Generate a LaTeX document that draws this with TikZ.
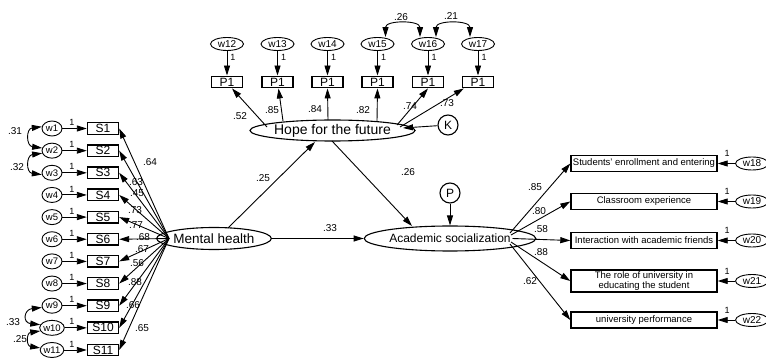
\documentclass[tikz,border=0pt]{standalone}
\usepackage{fontspec}
\setmainfont{Liberation Sans}
\usetikzlibrary{arrows.meta,calc,shapes.geometric}
\begin{document}
\begin{tikzpicture}[x=1pt,y=-1pt,
  box/.style={draw,line width=1.4pt,minimum width=31pt,minimum height=11.5pt,inner sep=0pt,font=\fontsize{12}{12}\selectfont},
  err/.style={draw,ellipse,line width=0.9pt,minimum width=20pt,minimum height=15pt,inner sep=0pt,font=\fontsize{9.5}{9.5}\selectfont},
  errt/.style={draw,ellipse,line width=0.9pt,minimum width=33pt,minimum height=13pt,inner sep=0pt,font=\fontsize{10}{10}\selectfont},
  lat/.style={draw,ellipse,line width=1.1pt,inner sep=0pt},
  circ/.style={draw,circle,line width=1.1pt,minimum size=20pt,inner sep=0pt,font=\fontsize{12}{12}\selectfont},
  rbox/.style={draw,line width=1.4pt,minimum width=146pt,minimum height=16pt,inner sep=0pt,font=\fontsize{9.5}{10.5}\selectfont,align=center},
  arr/.style={line width=0.9pt,-{Triangle[length=10pt,width=6pt]}},
  cov/.style={line width=0.9pt,{Triangle[length=10pt,width=6pt]}-{Triangle[length=10pt,width=6pt]}},
  lbl/.style={font=\fontsize{10}{10}\selectfont,inner sep=0pt},
  one/.style={font=\fontsize{9}{9}\selectfont,inner sep=0pt}]
\useasboundingbox (0,0) rectangle (766,358);
\fill[white] (0,0) rectangle (766,358);

% left indicators
\foreach \i in {1,...,11} {
  \pgfmathsetmacro\yy{128.5+(\i-1)*22.15}
  \node[err] (w\i) at (52,\yy) {w\i};
  \node[box] (s\i) at (103,\yy) {S\i};
  \draw[arr] (w\i) -- (s\i);
  \node[one] at (72,\yy-6) {1};
}
\node[lat,minimum width=96pt,minimum height=22pt,font=\fontsize{13.5}{13.5}\selectfont] (mh) at (214,238.5) {Mental health};
\coordinate (mhw) at (169,238.5);
\foreach \i in {1,...,11} \draw[arr] (mhw) -- (s\i.east);
\foreach \t/\x/\y in {.64/150/162,.63/136/182,.45/137/193,.73/135/210,.77/136/225,.68/143/237,.67/142/249,.56/137/263,.88/135/282,.66/133/305,.65/142/328}
  \node[lbl] at (\x,\y) {\t};

% left covariances
\draw[cov] (w1.170) .. controls +(-16,2) and +(-16,-2) .. (w2.165);
\draw[cov] (w2.195) .. controls +(-16,2) and +(-16,-2) .. (w3.190);
\draw[cov] (w9.190) .. controls +(-18,2) and +(-18,-2) .. (w10.165);
\draw[cov] (w10.195) .. controls +(-14,2) and +(-14,-2) .. (w11.170);
\node[lbl] at (15,131) {.31};
\node[lbl] at (17,167) {.32};
\node[lbl] at (13,322) {.33};
\node[lbl] at (20,339) {.25};

% top indicators
\foreach \n/\x in {12/227,13/277.5,14/327.5,15/377.5,16/428,17/478} {
  \node[errt] (w\n) at (\x,44) {w\n};
  \node[box] (p\n) at (\x,82) {P1};
  \draw[arr] (w\n) -- (p\n);
  \node[one] at (\x+6,57) {1};
}
\node[lat,minimum width=139pt,minimum height=21pt,font=\fontsize{14}{14}\selectfont] (hope) at (332.5,130.5) {Hope for the future};
\coordinate (h1) at (267,127);
\coordinate (h2) at (283,121);
\coordinate (h3) at (328,120);
\coordinate (h4) at (377,121);
\coordinate (h5) at (397,125);
\coordinate (h6) at (400,127);
\draw[arr] (h1) -- ($(p12.south)+(5,0)$);
\draw[arr] (h2) -- ($(p13.south)+(1,0)$);
\draw[arr] (h3) -- (p14.south);
\draw[arr] (h4) -- (p15.south);
\draw[arr] (h5) -- (p16.south);
\draw[arr] (h6) -- ($(p17.south west)+(2,0)$);
\node[lbl] at (240,116) {.52};
\node[lbl] at (272,110) {.85};
\node[lbl] at (315,109) {.84};
\node[lbl] at (363,110) {.82};
\node[lbl] at (410,106) {.74};
\node[lbl] at (447,103) {.73};

\draw[cov] ($(w15.north)+(8,0)$) .. controls +(0,-17) and +(0,-17) .. ($(w16.north)+(-8,0)$);
\draw[cov] ($(w16.north)+(8,0)$) .. controls +(0,-17) and +(0,-17) .. ($(w17.north)+(-8,0)$);
\node[lbl] at (401,17) {.26};
\node[lbl] at (451,16) {.21};

\node[circ] (k) at (448,125) {K};
\coordinate (hk) at (403,128);
\draw[arr] (k) -- (hk);

% academic socialization
\node[lat,minimum width=125pt,minimum height=25pt,font=\fontsize{12}{12}\selectfont] (acad) at (450,238.5) {Academic socialization};
\node[circ] (pp) at (450,193) {P};
\draw[arr] (pp) -- (acad);
\coordinate (mht) at (228,228);
\coordinate (hb) at (315,142);
\coordinate (hb2) at (332,141);
\coordinate (at) at (412,226);
\draw[arr] (mht) -- (hb);
\draw[arr] (hb2) -- (at);
\draw[arr] (mh.east) -- (acad.west);
\node[lbl] at (263,178) {.25};
\node[lbl] at (408,172) {.26};
\node[lbl] at (330,228) {.33};

% right indicators
\node[rbox] (r1) at (644,163.5) {Students' enrollment and entering};
\node[rbox] (r2) at (644,201.5) {Classroom experience};
\node[rbox] (r3) at (644,240.5) {Interaction with academic friends};
\node[rbox,minimum height=22pt] (r4) at (644,281) {The role of university in\\educating the student};
\node[rbox] (r5) at (644,320) {university performance};
\foreach \n/\r/\y in {18/r1/163.5,19/r2/201.5,20/r3/240.5,21/r4/281,22/r5/320} {
  \node[errt] (w\n) at (752,\y) {w\n};
  \draw[arr] (w\n) -- (\r);
  \node[one] at (727,\y-10) {1};
}
\coordinate (a1) at (510,233);
\coordinate (a2) at (511,235);
\coordinate (a3) at (512.5,238.5);
\coordinate (a4) at (511,242);
\coordinate (a5) at (510,244);
\draw[arr] (a1) -- (r1.west);
\draw[arr] (a2) -- (r2.west);
\draw[arr] (a3) -- (r3.west);
\draw[arr] (a4) -- (r4.west);
\draw[arr] (a5) -- (r5.west);
\node[lbl] at (535,187) {.85};
\node[lbl] at (539,211) {.80};
\node[lbl] at (541,229) {.58};
\node[lbl] at (541,252) {.88};
\node[lbl] at (530,281) {.62};
\end{tikzpicture}
\end{document}
